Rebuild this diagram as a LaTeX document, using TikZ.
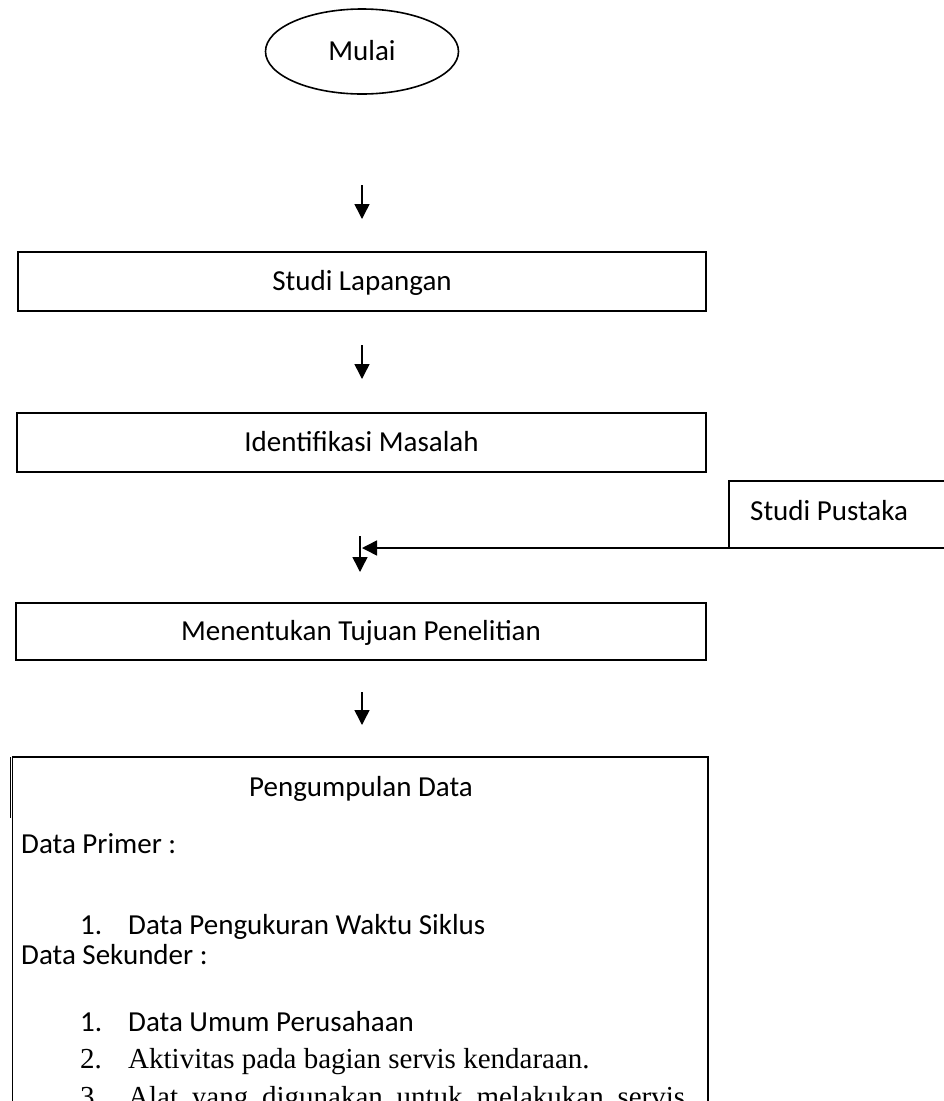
\documentclass[tikz,border=0pt]{standalone}
\usepackage{fontspec}
\setmainfont{Carlito}
\newfontfamily\timesfont{Liberation Serif}
\usetikzlibrary{arrows.meta,shapes.geometric}

\begin{document}
\begin{tikzpicture}[x=1pt,y=-1pt,
  font=\fontsize{29}{35}\selectfont,
  box/.style={draw,line width=1.6pt,rectangle,inner sep=0pt,outer sep=0pt,
              text height=18.7pt,text depth=0pt},
  flow/.style={line width=1.5pt,-{Triangle[length=15pt,width=15pt]}},
  txt/.style={inner sep=0pt,anchor=base west},
  ctxt/.style={inner sep=0pt,anchor=base}]
\useasboundingbox (0,0) rectangle (944,1101);
\clip (0,0) rectangle (944,1101);

% start terminal
\node[ellipse,draw,line width=1.6pt,minimum width=193pt,minimum height=85pt,
      inner sep=0pt,outer sep=0pt,text height=18.7pt,text depth=0pt] (mulai) at (362,51.5) {Mulai};

% free-standing flow arrows
\coordinate (a1s) at (362,185); \coordinate (a1e) at (362,219);
\coordinate (a2s) at (362,345); \coordinate (a2e) at (362,379);
\coordinate (a3s) at (360,536); \coordinate (a3e) at (360,572);
\coordinate (a4s) at (362,692); \coordinate (a4e) at (362,725);
\coordinate (join) at (362,548);

\draw[flow] (a1s) -- (a1e);

\node[box,minimum width=688pt,minimum height=59pt] (lap) at (362,281.5) {Studi Lapangan};

\draw[flow] (a2s) -- (a2e);

\node[box,minimum width=689pt,minimum height=59pt] (idm) at (361.5,442.5) {Identifikasi Masalah};

% literature study feeding in from the right
\node[box,anchor=north west,minimum width=240pt,minimum height=67pt] (sp) at (729,481) {};
\node[txt] (spt) at (750,520) {Studi Pustaka};
\draw[flow] (sp.south west) -- (join);

\draw[flow] (a3s) -- (a3e);

\node[box,minimum width=690pt,minimum height=57pt] (tuj) at (361,631.5) {Menentukan Tujuan Penelitian};

\draw[flow] (a4s) -- (a4e);

% data collection box
\node[box,anchor=north west,minimum width=695.5pt,minimum height=380pt] (pd) at (12.5,757) {};
\draw[line width=1.6pt] ([xshift=-2pt]pd.north west) -- ++(0,61);

\node[ctxt] (pdt) at (361,796) {Pengumpulan Data};
\node[txt] (dp) at (21,853) {Data Primer :};
\node[txt] (dp1n) at (80,934) {1.};
\node[txt] (dp1) at (128,934) {Data Pengukuran Waktu Siklus};
\node[txt] (ds) at (21,964) {Data Sekunder :};
\node[txt] (ds1n) at (80,1031) {1.};
\node[txt] (ds1) at (128,1031) {Data Umum Perusahaan};
\node[txt,font=\fontsize{29}{35}\timesfont] (ds2n) at (80,1068) {2.};
\node[txt,font=\fontsize{29}{35}\timesfont] (ds2) at (128,1068) {Aktivitas pada bagian servis kendaraan.};
\node[txt,font=\fontsize{29}{35}\timesfont] (ds3n) at (80,1106) {3.};
\node[txt,font=\fontsize{29}{35}\timesfont] (ds3) at (128,1106) {\makebox[557pt][s]{Alat yang digunakan untuk melakukan servis}};
\end{tikzpicture}
\end{document}
